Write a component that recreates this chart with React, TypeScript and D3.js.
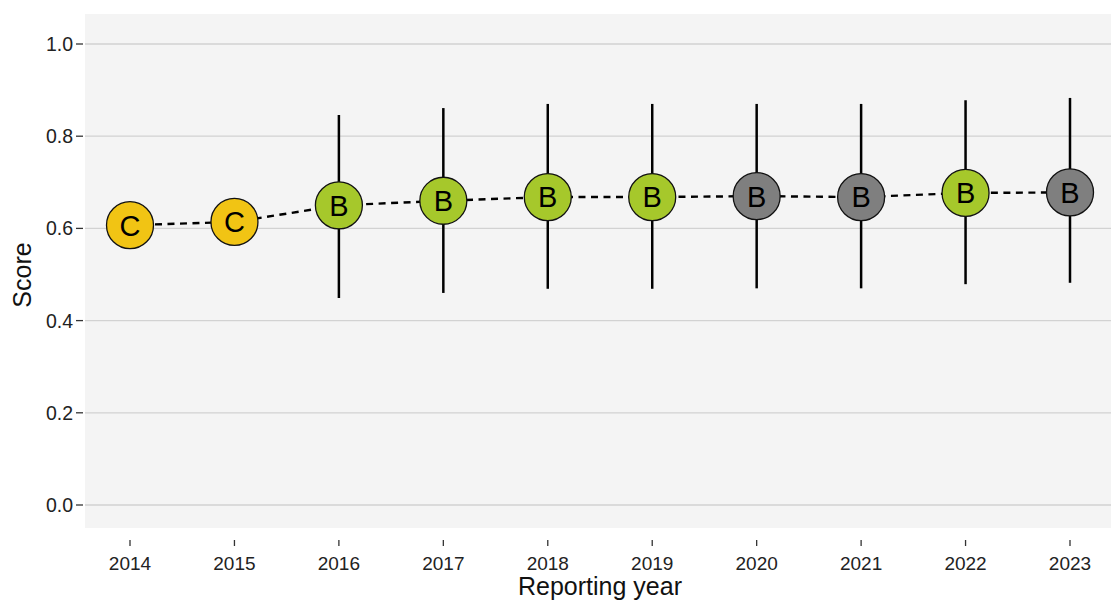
import React from "react";
import * as d3 from "d3";

const years = ["2014", "2015", "2016", "2017", "2018", "2019", "2020", "2021", "2022", "2023"];
const scores = [0.607, 0.614, 0.65, 0.66, 0.668, 0.668, 0.67, 0.668, 0.677, 0.678];
const lower = [null, null, 0.449, 0.46, 0.469, 0.469, 0.47, 0.47, 0.479, 0.482];
const upper = [null, null, 0.846, 0.861, 0.87, 0.87, 0.87, 0.87, 0.878, 0.883];
const grades = ["C", "C", "B", "B", "B", "B", "B", "B", "B", "B"];
const status = ["c", "c", "b", "b", "b", "b", "na", "na", "b", "na"];
const yTicks = [0, 0.2, 0.4, 0.6, 0.8, 1.0];

const W = 1111, H = 603;
const panel = { left: 85, right: 1111, top: 14, bottom: 528 };

export default function App() {
  const x = d3.scalePoint<string>().domain(years).range([130, 1070]);
  const y = d3.scaleLinear().domain([0, 1]).range([505, 44]);
  const color = d3.scaleOrdinal<string, string>().domain(["c", "b", "na"]).range(["#f1c414", "#a6c82b", "#7f7f7f"]);
  const line = d3.line<number>().x((_, i) => x(years[i])!).y((d) => y(d));
  const font = "Liberation Sans, Arial, Helvetica, sans-serif";
  return (
    <svg width={W} height={H} style={{ position: "absolute", left: 0, top: 0 }} fontFamily={font}>
      <rect x={0} y={0} width={W} height={H} fill="#ffffff" />
      <rect x={panel.left} y={panel.top} width={panel.right - panel.left} height={panel.bottom - panel.top} fill="#f4f4f4" />
      {yTicks.map((t) => (
        <g key={t}>
          <line x1={panel.left} x2={panel.right} y1={y(t)} y2={y(t)} stroke="#d2d2d2" strokeWidth={1.3} />
          <line x1={76} x2={83} y1={y(t)} y2={y(t)} stroke="#333" strokeWidth={1.3} />
          <text x={73} y={y(t)} dy="0.36em" textAnchor="end" fontSize={19.5} fill="#222">
            {d3.format(".1f")(t)}
          </text>
        </g>
      ))}
      {years.map((yr) => (
        <g key={yr}>
          <line x1={x(yr)} x2={x(yr)} y1={540} y2={546} stroke="#333" strokeWidth={1.3} />
          <text x={x(yr)} y={570} textAnchor="middle" fontSize={19} fill="#222">{yr}</text>
        </g>
      ))}
      <text x={600} y={595} textAnchor="middle" fontSize={25} fill="#111">Reporting year</text>
      <text transform={`translate(31,${275}) rotate(-90)`} textAnchor="middle" fontSize={25} fill="#111">Score</text>
      <path d={line(scores) || ""} fill="none" stroke="#000" strokeWidth={2.4} strokeDasharray="7,5.5" />
      {years.map((yr, i) =>
        lower[i] != null ? (
          <line key={"e" + yr} x1={x(yr)} x2={x(yr)} y1={y(upper[i] as number)} y2={y(lower[i] as number)} stroke="#000" strokeWidth={2.5} />
        ) : null
      )}
      {years.map((yr, i) => (
        <g key={"p" + yr}>
          <circle cx={x(yr)} cy={y(scores[i])} r={23.5} fill={color(status[i])} stroke="#111" strokeWidth={1.3} />
          <text x={x(yr)} y={y(scores[i])} dy="0.36em" textAnchor="middle" fontSize={29} fill="#000">{grades[i]}</text>
        </g>
      ))}
    </svg>
  );
}
